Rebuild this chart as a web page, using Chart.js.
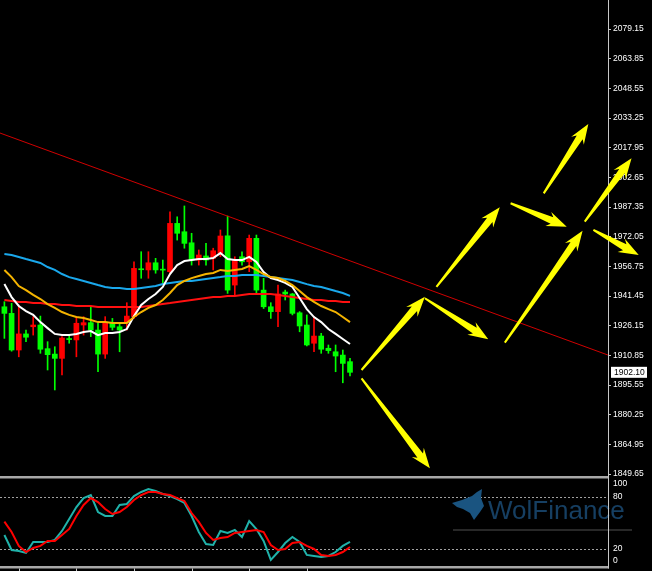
<!DOCTYPE html>
<html>
<head>
<meta charset="utf-8">
<title>XAUUSD</title>
<script src="https://cdn.jsdelivr.net/npm/chart.js@4.4.1/dist/chart.umd.min.js"></script>
<style>
body{margin:0;background:#000;}
#wrap{position:relative;width:652px;height:571px;background:#000;overflow:hidden;}
canvas{position:absolute;left:0;}
</style>
</head>
<body>
<div id="wrap">
<canvas id="priceChart" width="652" height="476" style="top:0"></canvas>
<canvas id="stochChart" width="652" height="95" style="top:476px"></canvas>
</div>
<script>
// candles (red = up, green = down)
const opens = [1935.9,1932.5,1913.6,1921.9,1925.6,1926.5,1914.3,1911.5,1909.3,1919.3,
  1918.8,1926.5,1927.7,1923.9,1911.5,1927.7,1925.6,1927.7,1930.8,1955.5,
  1954.9,1958.6,1955.1,1954.0,1978.9,1974.6,1968.9,1960.0,1962.1,1960.9,
  1963.5,1972.5,1947.1,1961.7,1959.1,1971.2,1944.5,1935.9,1933.4,1943.5,
  1942.5,1932.8,1926.5,1917.1,1920.8,1914.5,1912.7,1911.0,1907.6];
const highs = [1938.5,1937.7,1936.8,1923.9,1930.8,1931.1,1917.9,1915.3,1920.5,1921.3,
  1930.8,1930.8,1935.9,1927.4,1930.8,1929.9,1927.4,1938.0,1959.1,1964.3,
  1964.3,1960.9,1960.0,1984.9,1982.3,1987.9,1973.8,1965.2,1968.6,1966.1,
  1975.5,1982.7,1961.7,1964.3,1972.9,1972.9,1950.6,1938.0,1947.1,1944.5,
  1942.8,1933.4,1931.7,1930.8,1922.2,1916.2,1916.2,1913.6,1909.3];
const lows = [1919.6,1913.0,1910.1,1917.9,1921.3,1911.9,1903.3,1893.0,1900.7,1917.1,
  1910.1,1921.3,1920.5,1902.4,1909.3,1923.9,1912.7,1923.9,1929.9,1950.6,
  1950.6,1953.2,1948.0,1953.2,1970.3,1966.1,1957.4,1957.4,1957.4,1954.9,
  1961.7,1942.8,1942.0,1957.4,1954.0,1942.8,1935.0,1929.9,1925.6,1939.4,
  1931.7,1923.0,1915.7,1912.7,1911.9,1911.9,1902.4,1896.7,1900.2];
const closes = [1932.5,1913.6,1921.9,1920.2,1926.5,1914.0,1911.2,1909.3,1919.8,1919.0,
  1927.4,1927.7,1923.9,1911.5,1927.4,1925.3,1923.9,1931.1,1955.7,1955.0,
  1958.6,1954.9,1954.8,1978.9,1973.8,1968.6,1960.0,1962.6,1960.0,1964.8,
  1972.4,1944.5,1960.0,1959.1,1971.2,1944.5,1935.9,1933.4,1942.5,1942.5,
  1932.5,1926.0,1916.2,1920.8,1914.0,1913.3,1910.5,1906.7,1902.1];

// moving averages
const maWhite = [1947.6,1940.9,1936.3,1933.7,1931.7,1928.0,1924.9,1921.9,1921.3,1921.3,
  1921.9,1922.9,1923.4,1921.3,1922.4,1922.4,1922.9,1924.4,1931.1,1936.8,
  1939.9,1942.5,1946.1,1952.8,1957.4,1959.5,1960.0,1960.5,1960.5,1961.0,
  1963.6,1960.5,1960.0,1960.0,1961.6,1959.0,1953.8,1950.7,1949.7,1948.2,
  1946.1,1940.4,1934.7,1930.6,1928.0,1924.4,1921.9,1919.3,1916.7];
const maYellow = [1954.9,1951.2,1946.6,1944.5,1942.0,1939.9,1937.3,1935.3,1933.2,1931.7,
  1930.6,1930.1,1929.1,1928.0,1928.0,1927.5,1927.5,1927.5,1930.6,1933.2,
  1935.3,1936.8,1939.4,1943.0,1947.1,1949.2,1950.7,1951.8,1952.8,1953.3,
  1954.9,1954.3,1954.9,1955.4,1956.9,1954.9,1952.8,1951.2,1950.7,1949.2,
  1947.1,1944.0,1940.9,1938.4,1936.3,1934.7,1933.2,1930.6,1928.0];
const maBlue = [1963.1,1962.6,1961.6,1960.5,1959.5,1958.5,1956.4,1954.9,1952.8,1951.2,
  1950.2,1949.2,1948.2,1947.1,1946.1,1945.6,1945.6,1945.1,1945.1,1945.6,
  1946.1,1946.6,1947.6,1948.2,1948.7,1949.2,1949.2,1949.7,1950.2,1950.7,
  1951.2,1951.8,1951.8,1952.3,1952.3,1952.3,1951.8,1951.2,1950.7,1950.2,
  1949.7,1948.7,1947.6,1946.6,1946.1,1945.1,1944.0,1943.0,1941.5];
const maRed = [1939.4,1938.9,1938.4,1938.4,1937.8,1937.8,1937.3,1937.3,1936.8,1936.8,
  1936.3,1936.3,1936.3,1935.8,1935.8,1935.8,1935.8,1935.8,1935.8,1935.8,
  1936.3,1936.8,1937.3,1937.8,1938.4,1938.9,1939.4,1939.9,1940.4,1940.9,
  1940.9,1941.5,1941.5,1942.0,1942.5,1942.5,1942.5,1942.5,1942.0,1941.5,
  1940.9,1940.4,1939.9,1939.4,1939.4,1938.9,1938.9,1938.4,1938.4];

// stochastic
const stochMain = [36.2,18.8,17.7,15.4,28.1,28.1,28.1,30.4,40.8,54.6,
  68.4,78.8,82.3,62.7,58.1,58.1,70.8,71.9,81.1,85.8,
  89.2,86.9,83.5,81.2,77.7,73.1,58.1,39.6,25.8,24.6,
  40.8,38.5,41.9,33.8,52.3,43.1,29.2,7.3,16.5,26.9,
  33.8,28.1,13.1,11.9,10.8,11.9,16.5,23.5,28.1];
const stochSignal = [51.6,39.6,23.5,16.5,21.2,23.5,29.2,29.2,36.2,43.1,
  58.1,70.8,78.8,74.2,66.2,60.4,62.7,68.4,76.5,82.3,
  85.8,85.8,83.5,82.3,78.8,75.4,61.5,51.2,38.5,30.4,
  32.7,33.8,38.5,39.6,40.8,41.9,39.6,24.6,18.8,20.0,
  26.9,28.1,23.5,20.0,13.1,11.9,13.1,16.5,22.3];

// trend line and drawn arrows (bar index, price)
const trendX = [-0.61, 83.83];
const trendY = [2025.5, 1911.0];
const arrows = [
  [49.6, 1903.3, 58.4, 1941.1],
  [49.6, 1899.0, 59.1, 1852.6],
  [58.4, 1940.3, 67.2, 1919.1],
  [60.0, 1946.2, 68.8, 1987.2],
  [69.5, 1917.4, 80.3, 1975.1],
  [70.3, 1989.3, 78.1, 1977.2],
  [74.9, 1994.4, 81.1, 2030.2],
  [80.6, 1979.8, 87.1, 2012.5],
  [81.8, 1975.5, 88.1, 1962.6]
];

const priceTicks = [1849.65,1864.95,1880.25,1895.55,1910.85,1926.15,1941.45,1956.75,
  1972.05,1987.35,2002.65,2017.95,2033.25,2048.55,2063.85,2079.15];
const stochTicks = [0, 20, 80, 100];
const stochLevels = [20, 80];
const timeTicks = [2, 10, 18, 26, 34, 42];
const lastPrice = 1902.10;

const xMin = -0.61, xMax = 83.83;
const labelFont = '8.5px "Liberation Sans"';

const idx = closes.map((c, i) => i);
const candleColor = idx.map(i => closes[i] >= opens[i] ? '#ff0000' : '#00ff00');
const pts = arr => arr.map((v, i) => ({x: i, y: v}));

function lineSet(data, color, width, order) {
  return {type: 'line', data: data, borderColor: color, borderWidth: width,
    pointRadius: 0, tension: 0, fill: false, order: order};
}

function drawArrow(ctx, x1, y1, x2, y2) {
  const dx = x2 - x1, dy = y2 - y1, len = Math.hypot(dx, dy);
  const ux = dx / len, uy = dy / len, nx = -uy, ny = ux;
  const head = 16, hw = 7.5, sw = 3.5, tw = 1;
  const bx = x2 - ux * head, by = y2 - uy * head;
  ctx.beginPath();
  ctx.moveTo(x1 + nx * tw, y1 + ny * tw);
  ctx.lineTo(bx + nx * sw, by + ny * sw);
  ctx.lineTo(bx + nx * hw - ux * 4, by + ny * hw - uy * 4);
  ctx.lineTo(x2, y2);
  ctx.lineTo(bx - nx * hw - ux * 4, by - ny * hw - uy * 4);
  ctx.lineTo(bx - nx * sw, by - ny * sw);
  ctx.lineTo(x1 - nx * tw, y1 - ny * tw);
  ctx.closePath();
  ctx.fill();
}

const overlay = {
  id: 'overlay',
  afterDraw(chart) {
    const {ctx, chartArea, scales: {x, y}} = chart;
    ctx.save();
    ctx.fillStyle = '#ffff00';
    arrows.forEach(a => drawArrow(ctx, x.getPixelForValue(a[0]), y.getPixelForValue(a[1]),
      x.getPixelForValue(a[2]), y.getPixelForValue(a[3])));
    // current price tag
    const py = y.getPixelForValue(lastPrice);
    ctx.fillStyle = '#ffffff';
    ctx.fillRect(chartArea.right + 3, py - 5.5, 36, 11);
    ctx.fillStyle = '#000000';
    ctx.font = labelFont;
    ctx.textBaseline = 'middle';
    ctx.fillText(lastPrice.toFixed(2), chartArea.right + 6, py + 0.5);
    ctx.restore();
  }
};

new Chart(document.getElementById('priceChart'), {
  type: 'bar',
  data: {
    datasets: [
      lineSet(trendX.map((v, i) => ({x: v, y: trendY[i]})), '#d00000', 1, 0),
      lineSet(pts(maRed), '#ff1010', 2, 2),
      lineSet(pts(maBlue), '#1aa8ec', 2, 2),
      lineSet(pts(maYellow), '#f5b400', 2, 1),
      lineSet(pts(maWhite), '#ffffff', 2, 1),
      {type: 'bar', data: idx.map(i => ({x: i, y: [lows[i], highs[i]]})),
        backgroundColor: candleColor, barThickness: 1, grouped: false, order: 10},
      {type: 'bar', data: idx.map(i => ({x: i, y: [opens[i], closes[i]]})),
        backgroundColor: candleColor, barThickness: 5, minBarLength: 1, grouped: false, order: 9}
    ]
  },
  options: {
    responsive: false, animation: false, events: [],
    layout: {padding: 0},
    plugins: {legend: {display: false}, tooltip: {enabled: false}},
    scales: {
      x: {type: 'linear', min: xMin, max: xMax, display: false, offset: false, grid: {offset: false}},
      y: {
        position: 'right', min: 1848.63, max: 2094.11, beginAtZero: false,
        afterBuildTicks: s => { s.ticks = priceTicks.map(v => ({value: v})); },
        afterFit: s => { s.width = 44; s.paddingTop = 0; s.paddingBottom = 0; },
        grid: {drawOnChartArea: false, drawTicks: true, tickLength: 3, color: '#c8c8c8'},
        border: {color: '#c8c8c8', width: 1},
        ticks: {color: '#ffffff', font: {family: 'Liberation Sans', size: 8.5}, padding: 2,
          autoSkip: false, callback: v => v.toFixed(2)}
      }
    }
  },
  plugins: [overlay]
});

const stochDeco = {
  id: 'stochDeco',
  beforeDatasetsDraw(chart) {
    const {ctx, chartArea: a, scales: {y}} = chart;
    ctx.save();
    ctx.strokeStyle = '#a0a0a0';
    ctx.lineWidth = 1;
    ctx.setLineDash([2, 2]);
    stochLevels.forEach(v => {
      const py = Math.round(y.getPixelForValue(v)) + 0.5;
      ctx.beginPath(); ctx.moveTo(a.left, py); ctx.lineTo(a.right, py); ctx.stroke();
    });
    ctx.setLineDash([]);
    // watermark
    ctx.fillStyle = '#1a5480';
    ctx.beginPath();
    [[452,27],[462,24],[472,20],[477,16],[482,13],[481,22],[484,30],[480,36],[474,44],[470,37],[463,33],[457,31]]
      .forEach((p, i) => i ? ctx.lineTo(p[0], p[1]) : ctx.moveTo(p[0], p[1]));
    ctx.closePath(); ctx.fill();
    ctx.fillStyle = '#163f62';
    ctx.font = '26px "Liberation Sans"';
    ctx.textBaseline = 'alphabetic';
    ctx.fillText('WolFinance', 488, 42.5);
    ctx.fillStyle = '#505050';
    ctx.fillRect(453, 53.5, 179, 1);
    ctx.restore();
  },
  afterDraw(chart) {
    const {ctx, chartArea: a, scales: {x, y}} = chart;
    ctx.save();
    ctx.fillStyle = '#a8a8a8';
    ctx.fillRect(0, 0, a.right + 1, 2.5);
    ctx.fillRect(0, 90, a.right + 1, 2.5);
    ctx.fillStyle = '#c8c8c8';
    ctx.fillRect(a.right, 0, 1, 92.5);
    timeTicks.forEach(t => ctx.fillRect(Math.round(x.getPixelForValue(t)), 92.5, 1, 3));
    ctx.fillStyle = '#ffffff';
    ctx.font = labelFont;
    ctx.textBaseline = 'middle';
    stochTicks.forEach(v => {
      let py = y.getPixelForValue(v);
      if (v === 100) py += 4;
      if (v === 0) py -= 6;
      ctx.fillText(String(v), a.right + 5, py);
    });
    ctx.restore();
  }
};

new Chart(document.getElementById('stochChart'), {
  type: 'line',
  data: {
    datasets: [
      lineSet(pts(stochMain), '#20b2aa', 2, 2),
      lineSet(pts(stochSignal), '#ff0000', 2, 1)
    ]
  },
  options: {
    responsive: false, animation: false, events: [],
    layout: {padding: {top: 3.7, bottom: 4.7, left: 0, right: 44}},
    plugins: {legend: {display: false}, tooltip: {enabled: false}},
    scales: {
      x: {type: 'linear', min: xMin, max: xMax, display: false},
      y: {min: 0, max: 100, display: false}
    }
  },
  plugins: [stochDeco]
});
</script>
</body>
</html>
